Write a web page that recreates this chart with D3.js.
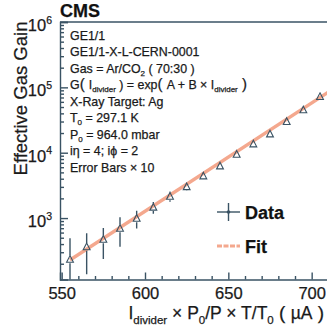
<!DOCTYPE html>
<html>
<head>
<meta charset="utf-8">
<script src="https://cdn.jsdelivr.net/npm/d3@7"></script>
<style>
  html, body { margin: 0; padding: 0; background: #fff; }
  svg { display: block; font-family: "Liberation Sans", Arial, sans-serif; }
  svg text { stroke: #1a1a1a; stroke-width: 0.25px; }
</style>
</head>
<body>
<div id="chart"></div>
<script>
// Measured points (I_divider corrected, uA) and effective gas gain
const current = [555, 565, 575, 585, 595, 605, 615, 625, 635, 645, 655, 665, 675, 685, 695, 705]
const gain = [233, 363, 472, 695, 990, 1460, 2150, 3010, 4400, 6250, 9440, 13600, 19300, 29900, 45100, 72100]
const gainErr = [25.6, 22.5, 23.5, 33, 30, 30, 38, 40, 45, 55, 70, 90, 120, 170, 250, 380]
const errScale = 10

// Fit line end points
const fitCurrent = [555, 711]
const fitGain = [228, 87500]

const xMajor = [550, 600, 650, 700]
const xMinor = [560, 570, 580, 590, 610, 620, 630, 640, 660, 670, 680, 690, 710]
const yMajor = [1e3, 1e4, 1e5, 1e6]
const yMajorExp = ["3", "4", "5", "6"]

const infoLines = [
  [["GE1/1"]],
  [["GE1/1-X-L-CERN-0001"]],
  [["Gas = Ar/CO"], ["2", "sub"], [" ( 70:30 )"]],
  [["G"], ["( ", "big"], ["I"], ["divider", "sub"], [" ) = exp", "bigp"], ["( ", "big"], ["A + B × I"], ["divider", "sub"], [" )", "big"]],
  [["X-Ray Target: Ag"]],
  [["T"], ["0", "sub"], [" = 297.1 K"]],
  [["P"], ["0", "sub"], [" = 964.0 mbar"]],
  [["iη = 4; iϕ = 2"]],
  [["Error Bars × 10"]]
]

const width = 327, height = 332
const margin = { top: 22, right: -3, bottom: 52.5, left: 60 }
const axisColor = "#3a5364"
const fitColor = "#f4a88e"

const svg = d3.select("#chart").append("svg")
  .attr("width", width)
  .attr("height", height)

const x = d3.scaleLinear()
  .domain([549, 711])
  .range([margin.left, width - margin.right])

const y = d3.scaleLog()
  .domain([Math.pow(10, 2.06), 1e6])
  .range([height - margin.bottom, margin.top])

const x0 = x.range()[0], x1 = x.range()[1]
const yb = y.range()[0], yt = y.range()[1]

svg.append("defs").append("clipPath").attr("id", "plot")
  .append("rect").attr("x", x0).attr("y", yt).attr("width", x1 - x0).attr("height", yb - yt)

const plot = svg.append("g").attr("clip-path", "url(#plot)")

// Fit
plot.append("path")
  .datum(fitCurrent.map((c, i) => [c, fitGain[i]]))
  .attr("fill", "none")
  .attr("stroke", fitColor)
  .attr("stroke-width", 3.4)
  .attr("d", d3.line().x(d => x(d[0])).y(d => y(d[1])))

// Error bars (drawn outside the marker)
const pts = current.map((c, i) => ({ c, g: gain[i], e: gainErr[i] * errScale }))
const msize = 3.8
pts.forEach(d => {
  const cx = x(d.c), cy = y(d.g)
  const lo = d.g - d.e > 0 ? y(d.g - d.e) : yb + 10
  const hi = y(d.g + d.e)
  if (hi < cy - msize) {
    plot.append("line").attr("x1", cx).attr("x2", cx).attr("y1", hi).attr("y2", cy - msize)
      .attr("stroke", axisColor).attr("stroke-width", 1.4)
  }
  if (lo > cy + msize) {
    plot.append("line").attr("x1", cx).attr("x2", cx).attr("y1", cy + msize).attr("y2", lo)
      .attr("stroke", axisColor).attr("stroke-width", 1.4)
  }
})

// Markers: open triangles
plot.selectAll("path.mk")
  .data(pts)
  .join("path")
  .attr("class", "mk")
  .attr("d", d => {
    const cx = x(d.c), cy = y(d.g)
    return `M${cx},${cy - msize}L${cx + msize * 0.9},${cy + msize * 0.75}L${cx - msize * 0.9},${cy + msize * 0.75}Z`
  })
  .attr("fill", "none")
  .attr("stroke", axisColor)
  .attr("stroke-width", 1.1)

// Frame top
svg.append("line")
  .attr("x1", x0).attr("x2", x1).attr("y1", yt).attr("y2", yt)
  .attr("stroke", axisColor).attr("stroke-width", 1.4)

// X axis ticks (inside)
svg.append("g")
  .attr("transform", `translate(0,${yb})`)
  .call(d3.axisTop(x).tickValues(xMajor).tickSize(7).tickFormat(""))
const xMin = svg.append("g")
  .attr("transform", `translate(0,${yb})`)
  .call(d3.axisTop(x).tickValues(xMinor).tickSize(3.5).tickFormat(""))
xMin.select(".domain").remove()

const xLab = svg.append("g")
  .attr("transform", `translate(0,${yb})`)
  .call(d3.axisBottom(x).tickValues(xMajor).tickSize(0).tickPadding(8).tickFormat(d3.format("d")))
xLab.select(".domain").remove()
xLab.selectAll("text")
  .attr("font-size", 16.5)
  .attr("font-family", "Liberation Sans, Arial, sans-serif")
  .attr("fill", "#1a1a1a")
  .attr("dy", "0.71em")

// Y axis ticks (inside)
const yMinorVals = []
for (let e = 2; e < 6; e++) for (let m = 2; m <= 9; m++) {
  const v = m * Math.pow(10, e)
  if (v >= y.domain()[0]) yMinorVals.push(v)
}
svg.append("g")
  .attr("transform", `translate(${x0},0)`)
  .call(d3.axisRight(y).tickValues(yMajor).tickSize(8).tickFormat(""))
const yMin = svg.append("g")
  .attr("transform", `translate(${x0},0)`)
  .call(d3.axisRight(y).tickValues(yMinorVals).tickSize(4).tickFormat(""))
yMin.select(".domain").remove()

svg.selectAll(".domain, .tick line")
  .attr("stroke", axisColor)
  .attr("stroke-width", 1.4)

// Y tick labels 10^n
yMajor.forEach((v, i) => {
  const t = svg.append("text")
    .attr("x", 52)
    .attr("y", y(v) + 9)
    .attr("text-anchor", "end")
    .attr("font-size", 16.5)
    .attr("fill", "#1a1a1a")
  t.append("tspan").text("10")
  t.append("tspan").attr("font-size", 10.5).attr("dy", -7.5).text(yMajorExp[i])
})

// Y title
svg.append("text")
  .attr("transform", `translate(27,${(yt + 175) / 2}) rotate(-90)`)
  .attr("text-anchor", "middle")
  .attr("font-size", 18.5)
  .attr("fill", "#1a1a1a")
  .text("Effective Gas Gain")

// CMS label
svg.append("text")
  .attr("x", 60).attr("y", 17)
  .attr("font-size", 18)
  .attr("font-weight", "bold")
  .attr("fill", "#111")
  .text("CMS")

// Info text block
const info = svg.append("g").attr("font-size", 12.4).attr("fill", "#1a1a1a")
infoLines.forEach((parts, i) => {
  const t = info.append("text").attr("x", 70).attr("y", 39.5 + i * 16.55)
  let shift = 0
  parts.forEach(([s, kind]) => {
    const sp = t.append("tspan").text(s)
    if (kind === "sub") {
      sp.attr("font-size", 8).attr("dy", 3 - shift)
      shift = 3
    } else {
      if (shift) sp.attr("dy", -shift)
      shift = 0
      if (kind === "big") sp.attr("font-size", 15)
    }
  })
})

// Legend
const legX = 217, legY1 = 212, legY2 = 246
svg.append("line").attr("x1", legX).attr("x2", legX + 23).attr("y1", legY1).attr("y2", legY1)
  .attr("stroke", axisColor).attr("stroke-width", 1.4)
svg.append("line").attr("x1", legX + 11.5).attr("x2", legX + 11.5).attr("y1", legY1 - 9).attr("y2", legY1 + 9)
  .attr("stroke", axisColor).attr("stroke-width", 1.4)
svg.append("circle").attr("cx", legX + 11.5).attr("cy", legY1).attr("r", 1.8).attr("fill", axisColor)
svg.append("line").attr("x1", legX).attr("x2", legX + 23).attr("y1", legY2).attr("y2", legY2)
  .attr("stroke", fitColor).attr("stroke-width", 3).attr("stroke-dasharray", "5,1.5")

svg.append("text").attr("x", 245).attr("y", legY1 + 6.5)
  .attr("font-size", 18).attr("font-weight", "bold").attr("fill", "#111").text("Data")
svg.append("text").attr("x", 245).attr("y", legY2 + 6.5)
  .attr("font-size", 18).attr("font-weight", "bold").attr("fill", "#111").text("Fit")

// X title
const xt = svg.append("text")
  .attr("x", 324).attr("y", 319)
  .attr("text-anchor", "end")
  .attr("font-size", 17.5)
  .attr("fill", "#1a1a1a")
xt.append("tspan").text("I")
xt.append("tspan").attr("font-size", 11.5).attr("dy", 4.5).text("divider")
xt.append("tspan").attr("dy", -4.5).text(" × P")
xt.append("tspan").attr("font-size", 11.5).attr("dy", 4.5).text("0")
xt.append("tspan").attr("dy", -4.5).text("/P × T/T")
xt.append("tspan").attr("font-size", 11.5).attr("dy", 4.5).text("0")
xt.append("tspan").attr("dy", -4.5).attr("font-size", 19).text(" ( ")
xt.append("tspan").text("µA")
xt.append("tspan").attr("font-size", 19).text(" )")
</script>
</body>
</html>
